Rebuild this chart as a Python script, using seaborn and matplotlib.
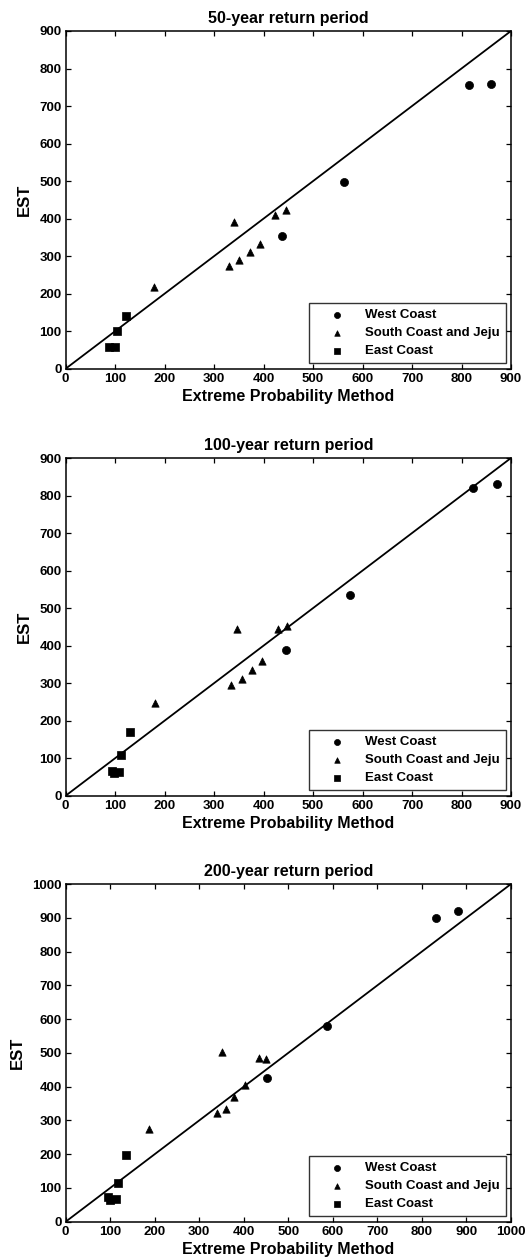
import matplotlib
matplotlib.use("Agg")
import matplotlib.pyplot as plt
import seaborn as sns
import pandas as pd

sns.set_style("ticks")
plt.rcParams['font.family'] = ['Liberation Sans', 'DejaVu Sans']
plt.rcParams['font.weight'] = 'bold'
plt.rcParams['text.color'] = 'black'
plt.rcParams['axes.labelcolor'] = 'black'
plt.rcParams['xtick.color'] = 'black'
plt.rcParams['ytick.color'] = 'black'

titles = ["50-year return period", "100-year return period", "200-year return period"]
limits = [900, 900, 1000]
series_names = ["West Coast", "South Coast and Jeju", "East Coast"]

# 50-year
west50_x = [815, 860, 562, 437]
west50_y = [757, 760, 498, 354]
south50_x = [178, 340, 331, 351, 372, 393, 424, 445]
south50_y = [218, 392, 274, 290, 311, 332, 409, 422]
east50_x = [88, 100, 104, 121]
east50_y = [59, 59, 100, 140]

# 100-year
west100_x = [823, 871, 574, 445]
west100_y = [820, 831, 535, 388]
south100_x = [181, 346, 335, 356, 377, 397, 430, 447]
south100_y = [246, 444, 295, 312, 335, 359, 445, 451]
east100_x = [94, 97, 107, 112, 129]
east100_y = [66, 61, 63, 109, 169]

# 200-year
west200_x = [832, 882, 587, 453]
west200_y = [898, 921, 579, 425]
south200_x = [186, 350, 340, 361, 379, 403, 434, 450]
south200_y = [275, 502, 322, 334, 369, 404, 486, 482]
east200_x = [96, 100, 114, 118, 135]
east200_y = [72, 64, 67, 116, 198]

panels = [
    (west50_x, west50_y, south50_x, south50_y, east50_x, east50_y),
    (west100_x, west100_y, south100_x, south100_y, east100_x, east100_y),
    (west200_x, west200_y, south200_x, south200_y, east200_x, east200_y),
]

fig = plt.figure(figsize=(5.31, 12.6), dpi=100)
left, width = 0.1237, 0.8386
bottoms = [0.7074, 0.3685, 0.0304]
height = 0.268

markers = ["o", "^", "s"]
sizes = [34, 28, 36]

for i, (wx, wy, sx, sy, ex, ey) in enumerate(panels):
    ax = fig.add_axes([left, bottoms[i], width, height])
    lim = limits[i]
    diag = pd.DataFrame({"x": [0, lim], "y": [0, lim]})
    sns.lineplot(data=diag, x="x", y="y", ax=ax, color="black", lw=1.3)
    groups = [(wx, wy), (sx, sy), (ex, ey)]
    for (gx, gy), name, m, s in zip(groups, series_names, markers, sizes):
        df = pd.DataFrame({"x": gx, "y": gy})
        sns.scatterplot(data=df, x="x", y="y", ax=ax, marker=m, s=s,
                        color="black", edgecolor="black", linewidth=0.5, label=name)
    ax.set_xlim(0, lim)
    ax.set_ylim(0, lim)
    ticks = list(range(0, lim + 1, 100))
    ax.set_xticks(ticks)
    ax.set_yticks(ticks)
    ax.tick_params(direction="in", top=True, right=True, length=3.5, width=0.9,
                   labelsize=9.5, pad=3)
    for lab in ax.get_xticklabels() + ax.get_yticklabels():
        lab.set_fontweight("bold")
    for sp in ax.spines.values():
        sp.set_linewidth(1.1)
        sp.set_color("black")
    ax.set_title(titles[i], fontsize=11.5, fontweight="bold", pad=6)
    ax.set_xlabel("Extreme Probability Method", fontsize=11.5, fontweight="bold", labelpad=3)
    ax.set_ylabel("EST", fontsize=12, fontweight="bold", labelpad=5)
    leg = ax.legend(loc="lower right", fontsize=9.5, frameon=True, fancybox=False,
                    edgecolor="black", handletextpad=0.4, borderpad=0.45,
                    labelspacing=0.45, borderaxespad=0.4, handlelength=3.4,
                    markerscale=0.75)
    leg.get_frame().set_linewidth(1.0)
    for t in leg.get_texts():
        t.set_fontweight("bold")

fig.savefig("out.png", dpi=100)
